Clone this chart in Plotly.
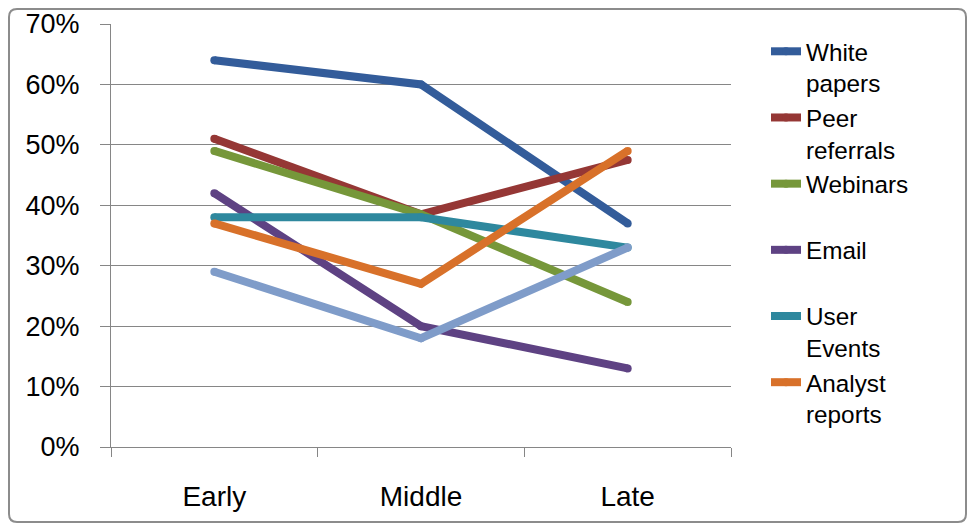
import plotly.graph_objects as go

stages = ["Early", "Middle", "Late"]
white_papers = [0.64, 0.60, 0.37]
peer_referrals = [0.51, 0.385, 0.475]
webinars = [0.49, 0.385, 0.24]
email = [0.42, 0.20, 0.13]
user_events = [0.38, 0.38, 0.33]
analyst_reports = [0.37, 0.27, 0.49]
unlabeled_series = [0.29, 0.18, 0.33]

series_names = ["White<br>papers", "Peer<br>referrals", "Webinars<br>&nbsp;", "Email<br>&nbsp;",
                "User<br>Events", "Analyst<br>reports", "Other"]
series_values = [white_papers, peer_referrals, webinars, email, user_events, analyst_reports, unlabeled_series]
series_colors = ["#335C9A", "#953735", "#76973A", "#5E4283", "#2E889E", "#D8712A", "#7F9CC9"]
series_legend = [True, True, True, True, True, True, False]

FONT = "Liberation Sans, Arial, sans-serif"
GRID = "#868686"

fig = go.Figure()
for name, vals, col, show in zip(series_names, series_values, series_colors, series_legend):
    fig.add_trace(go.Scatter(
        x=stages, y=vals, name=name, mode="lines+markers",
        line=dict(color=col, width=8),
        marker=dict(color=col, size=8),
        showlegend=show,
    ))

OFF = 8  # page body margin
W, H = 975 - 2 * OFF, 531 - 2 * OFF
L = 111 - OFF
T = 24 - OFF
R = W - (731 - OFF)
B = H - (447 - OFF)
pw, ph = W - L - R, H - T - B

def px(x):  # page x -> paper
    return (x - OFF - L) / pw

def py(y):  # page y -> paper
    return (H - B - (y - OFF)) / ph

# rounded border around the whole chart (figure edges)
x0, x1 = (1 - L) / pw, (W - 1 - L) / pw
y0, y1 = (H - B - (H - 1)) / ph, (H - B - 1) / ph
rx, ry = 8 / pw, 8 / ph
path = (f"M {x0+rx} {y1} L {x1-rx} {y1} Q {x1} {y1} {x1} {y1-ry} "
        f"L {x1} {y0+ry} Q {x1} {y0} {x1-rx} {y0} "
        f"L {x0+rx} {y0} Q {x0} {y0} {x0} {y0+ry} "
        f"L {x0} {y1-ry} Q {x0} {y1} {x0+rx} {y1} Z")

fig.update_layout(
    width=W, height=H,
    margin=dict(l=L, r=R, t=T, b=B, autoexpand=False),
    paper_bgcolor="white", plot_bgcolor="white",
    font=dict(family=FONT, color="black"),
    shapes=[dict(type="path", xref="paper", yref="paper", path=path,
                 line=dict(color="#8C8C8C", width=2), layer="below")],
    legend=dict(
        x=px(766), xanchor="left", y=py(29), yanchor="top",
        font=dict(family=FONT, size=24.3, color="black"),
        valign="top", bgcolor="rgba(0,0,0,0)", itemclick=False,
        tracegroupgap=0, maxheight=500,
    ),
    showlegend=True,
)
fig.update_xaxes(
    type="category", categoryorder="array", categoryarray=stages,
    range=[-0.5, 2.5], showgrid=False,
    showline=True, linecolor=GRID, linewidth=1,
    ticks="outside", tickson="boundaries", ticklen=9, tickcolor=GRID,
    tickfont=dict(family=FONT, size=28, color="black"),
    ticklabelstandoff=24,
)
fig.update_yaxes(
    range=[0, 0.7], dtick=0.1, tickformat=".0%",
    showgrid=True, gridcolor=GRID, gridwidth=1, zeroline=False,
    showline=True, linecolor=GRID, linewidth=1,
    ticks="outside", ticklen=10, tickcolor=GRID,
    tickfont=dict(family=FONT, size=27, color="black"),
    ticklabelstandoff=15,
)

fig.write_html("out.html")
